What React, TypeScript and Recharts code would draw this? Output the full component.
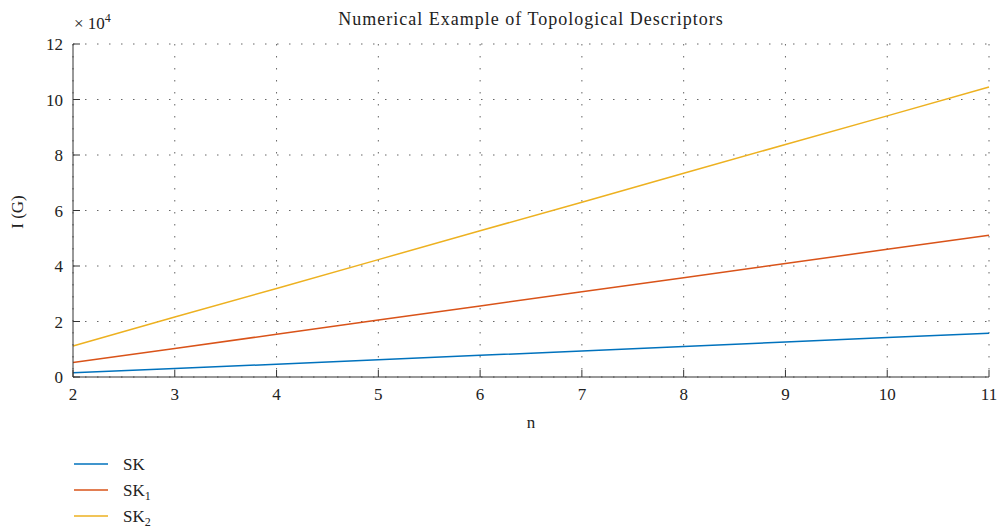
import React from 'react'
import { LineChart, Line, XAxis, YAxis, CartesianGrid } from 'recharts'

// n values along the x axis
const nValues = [2, 3, 4, 5, 6, 7, 8, 9, 10, 11]

// descriptor values
const skValues = [1500, 3100, 4600, 6200, 7800, 9400, 11000, 12600, 14200, 15800]
const sk1Values = [5200, 10300, 15400, 20500, 25600, 30700, 35800, 40900, 46000, 51100]
const sk2Values = [11200, 21600, 31900, 42300, 52700, 63000, 73400, 83800, 94100, 104500]

const xTicks = [2, 3, 4, 5, 6, 7, 8, 9, 10, 11]
const yTicks = [0, 20000, 40000, 60000, 80000, 100000, 120000]

const data = nValues.map((n, i) => ({
  n,
  sk: skValues[i],
  sk1: sk1Values[i],
  sk2: sk2Values[i],
}))

const FONT = '"Liberation Serif", "DejaVu Serif", serif'
const TEXT = '#222'
const AXIS = '#333'

const series = [
  { key: 'sk', color: '#0072BD', name: 'SK', sub: '' },
  { key: 'sk1', color: '#D95319', name: 'SK', sub: '1' },
  { key: 'sk2', color: '#EDB120', name: 'SK', sub: '2' },
]

// serif tick labels, drawn by hand so the font sticks
const XTick = (props: any) => {
  const { x, y, payload } = props
  return (
    <text x={x} y={y} dy={13} textAnchor="middle" fill={TEXT} fontSize={17} fontFamily={FONT}>
      {payload.value}
    </text>
  )
}

const YTick = (props: any) => {
  const { x, y, payload } = props
  return (
    <text x={x} y={y} dy={6} textAnchor="end" fill={TEXT} fontSize={17} fontFamily={FONT}>
      {payload.value / 10000}
    </text>
  )
}

export default function App() {
  return (
    <div
      style={{
        position: 'absolute',
        left: 0,
        top: 0,
        width: 998,
        height: 529,
        background: '#fff',
        fontFamily: FONT,
      }}
    >
      <LineChart
        width={998}
        height={529}
        data={data}
        margin={{ top: 44, right: 9, bottom: 122, left: 0 }}
      >
        <CartesianGrid stroke="#666" strokeDasharray="1.5 10.5" />
        <XAxis
          dataKey="n"
          type="number"
          domain={[2, 11]}
          ticks={xTicks}
          height={30}
          stroke={AXIS}
          tickSize={-7}
          tickMargin={17}
          tick={<XTick />}
        />
        <XAxis
          xAxisId="top"
          orientation="top"
          dataKey="n"
          type="number"
          domain={[2, 11]}
          ticks={xTicks}
          height={0}
          stroke={AXIS}
          tickSize={-7}
          tickFormatter={() => ''}
        />
        <YAxis
          type="number"
          domain={[0, 120000]}
          ticks={yTicks}
          width={73}
          stroke={AXIS}
          tickSize={-7}
          tickMargin={17}
          tick={<YTick />}
        />
        <YAxis
          yAxisId="right"
          orientation="right"
          type="number"
          domain={[0, 120000]}
          ticks={yTicks}
          width={0}
          stroke={AXIS}
          tickSize={-7}
          tickFormatter={() => ''}
        />
        {series.map((s) => (
          <Line
            key={s.key}
            dataKey={s.key}
            type="linear"
            stroke={s.color}
            strokeWidth={1.5}
            dot={false}
            isAnimationActive={false}
          />
        ))}
        <text
          x={531}
          y={25}
          textAnchor="middle"
          fill={TEXT}
          fontSize={18}
          letterSpacing={1}
          fontFamily={FONT}
        >
          Numerical Example of Topological Descriptors
        </text>
        <text x={74} y={29} fill={TEXT} fontSize={17} fontFamily={FONT}>
          × 10<tspan dy={-7} fontSize={12}>4</tspan>
        </text>
        <text x={531} y={428} textAnchor="middle" fill={TEXT} fontSize={17} fontFamily={FONT}>
          n
        </text>
        <text
          x={23}
          y={212}
          textAnchor="middle"
          fill={TEXT}
          fontSize={17}
          fontFamily={FONT}
          transform="rotate(-90 23 212)"
        >
          I (G)
        </text>
        {series.map((s, i) => (
          <g key={s.key + '-legend'}>
            <line x1={74} x2={108} y1={464 + i * 26} y2={464 + i * 26} stroke={s.color} strokeWidth={1.5} />
            <text x={123} y={470 + i * 26} fill={TEXT} fontSize={17} fontFamily={FONT}>
              {s.name}
              {s.sub && <tspan dy={4} fontSize={12}>{s.sub}</tspan>}
            </text>
          </g>
        ))}
      </LineChart>
    </div>
  )
}
